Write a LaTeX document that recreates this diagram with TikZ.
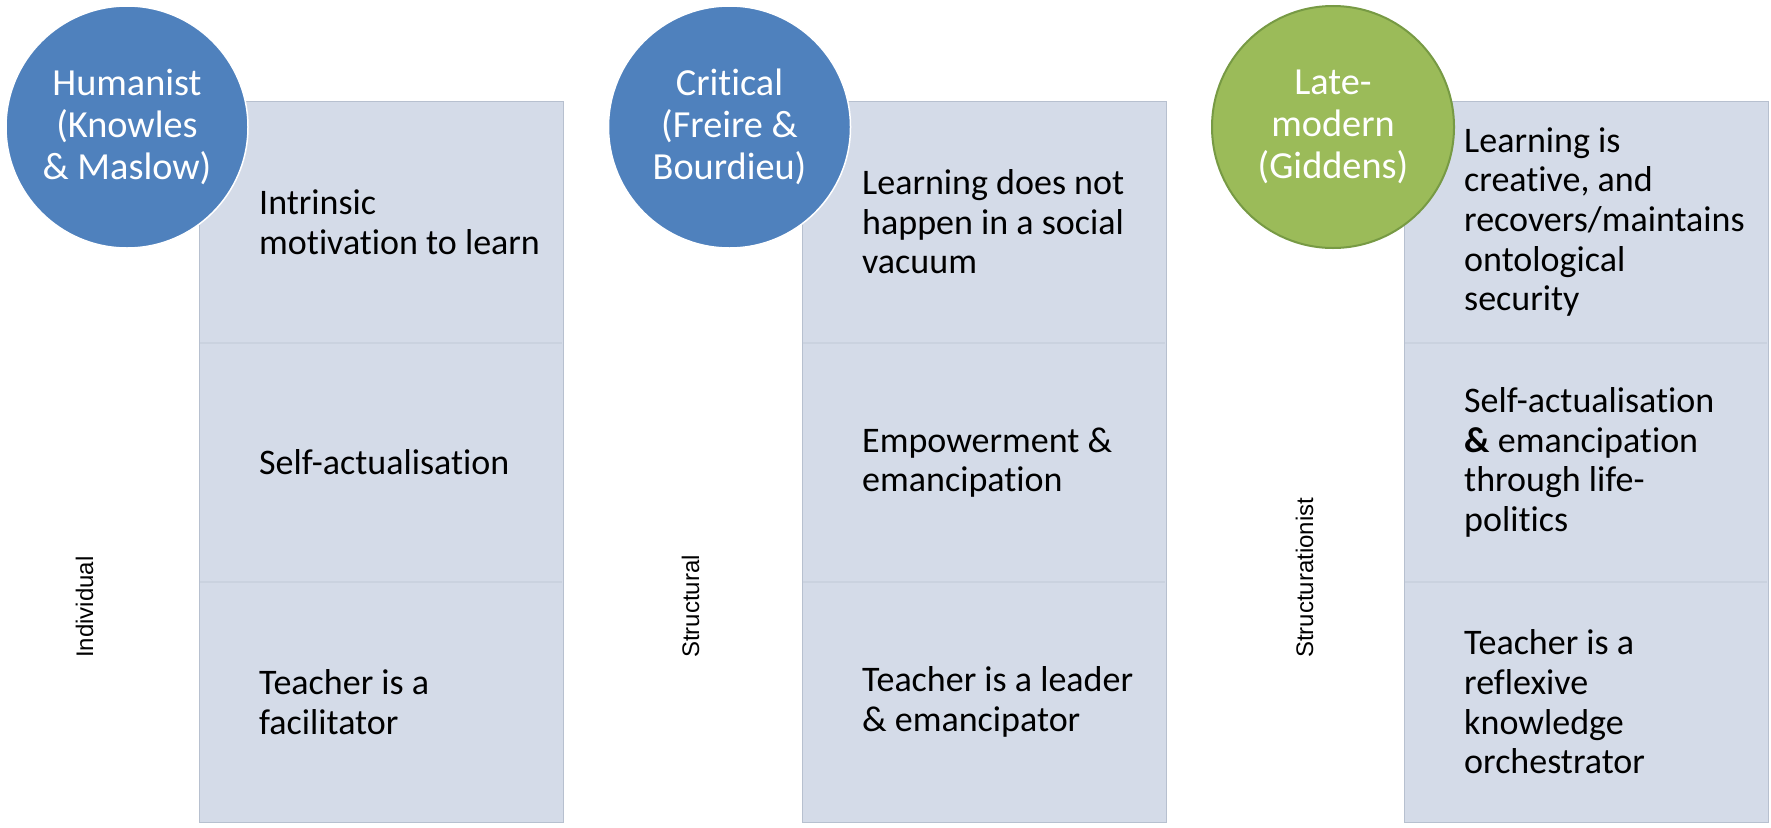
\documentclass[tikz,border=0pt]{standalone}
\usepackage{fontspec}
\setmainfont{Carlito}[Ligatures=NoCommon]
\newfontfamily\labelfont{Liberation Sans}
\definecolor{cellfill}{HTML}{D4DBE8}
\definecolor{cellline}{HTML}{B7C0CF}
\definecolor{divline}{HTML}{CAD2DF}
\definecolor{blueball}{HTML}{4F81BD}
\definecolor{greenball}{HTML}{9BBB59}
\definecolor{greenedge}{HTML}{779A44}
\tikzset{
  colbox/.style={rectangle, fill=cellfill, draw=cellline, line width=1.2pt,
    minimum width=364pt, minimum height=721pt, inner sep=0pt, anchor=north west},
  divider/.style={draw=divline, line width=1.2pt},
  ball/.style={circle, minimum size=242pt, inner sep=0pt, text=white, align=center,
    font=\fontsize{38.3}{42}\selectfont},
  blueb/.style={ball, fill=blueball, draw=white, line width=1.5pt},
  greenb/.style={ball, fill=greenball, draw=greenedge, line width=2pt},
  celltext/.style={anchor=west, inner sep=0pt, align=left, text=black,
    font=\fontsize{36}{39.6}\selectfont},
  sidelabel/.style={rotate=90, anchor=base west, inner sep=0pt, text=black,
    font=\labelfont\fontsize{24}{28}\selectfont}
}
\begin{document}
\begin{tikzpicture}[x=1pt,y=-1pt]
\useasboundingbox[fill=white] (0,0) rectangle (1771,827);

% columns
\node[colbox] (box1) at (199,101) {};
\node[colbox] (box2) at (802,101) {};
\node[colbox] (box3) at (1404,101) {};

% row dividers
\foreach \L in {199,802,1404}{
  \draw[divider] (\L+1,343) -- (\L+363,343);
  \draw[divider] (\L+1,582) -- (\L+363,582);
}

% circles
\node[blueb] (c1) at (127,127) {Humanist\\(Knowles\\\& Maslow)};
\node[blueb] (c2) at (729.5,127) {Critical\\(Freire \&\\Bourdieu)};
\node[greenb] (c3) at (1333,127) {Late-\\modern\\(Giddens)};

% side labels
\node[sidelabel] (l1) at (93,658) {Individual};
\node[sidelabel] (l2) at (699,658) {Structural};
\node[sidelabel] (l3) at (1313,658) {Structurationist};

% column 1 texts
\node[celltext] (t11) at (259,222) {Intrinsic\\motivation to learn};
\node[celltext] (t12) at (259,462.5) {Self-actualisation};
\node[celltext] (t13) at (259,702) {Teacher is a\\facilitator};

% column 2 texts
\node[celltext] (t21) at (862,222) {Learning does not\\happen in a social\\vacuum};
\node[celltext] (t22) at (862,462.5) {Empowerment \&\\emancipation};
\node[celltext] (t23) at (862,702) {Teacher is a leader\\\& emancipator};

% column 3 texts
\node[celltext] (t31) at (1464,222) {Learning is\\creative, and\\recovers/maintains\\ontological\\security};
\node[celltext] (t32) at (1464,462.5) {Self-actualisation\\\textbf{\&} emancipation\\through life-\\politics};
\node[celltext] (t33) at (1464,702) {Teacher is a\\reflexive\\knowledge\\orchestrator};
\end{tikzpicture}
\end{document}
